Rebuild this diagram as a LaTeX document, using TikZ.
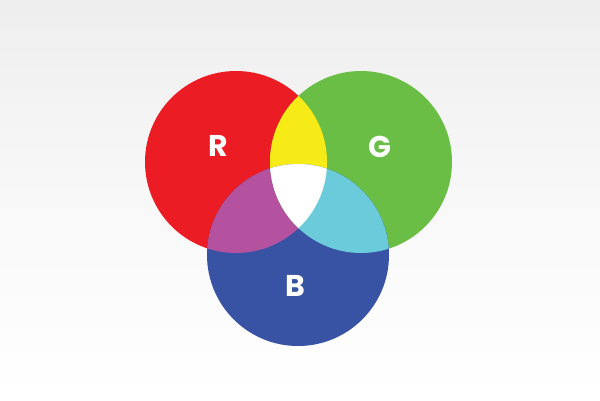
\documentclass[tikz,border=0pt]{standalone}
\usepackage{fontspec}
\setsansfont{Poppins}
\usetikzlibrary{positioning}
\definecolor{rgbred}{HTML}{EC1C24}
\definecolor{rgbgreen}{HTML}{6ABD45}
\definecolor{rgbblue}{HTML}{3953A4}
\definecolor{rgbyellow}{HTML}{F6EB16}
\definecolor{rgbmagenta}{HTML}{B5529F}
\definecolor{rgbcyan}{HTML}{6CCBDB}
\definecolor{bgrey}{HTML}{EEEEEE}
\tikzset{lbl/.style={text=white, font=\sffamily\bfseries\fontsize{30}{30}\selectfont, inner sep=0pt}}

\begin{document}
\begin{tikzpicture}[x=1pt, y=-1pt]
  % background
  \shade[top color=bgrey, bottom color=white, middle color=white!60!bgrey] (0,0) rectangle (600,400);
  \useasboundingbox (0,0) rectangle (600,400);
  \def\rad{91}
  \coordinate (cr) at (236,162);
  \coordinate (cg) at (361,162);
  \coordinate (cb) at (298,255);
  % primaries
  \fill[rgbred] (cr) circle[radius=\rad];
  \fill[rgbgreen] (cg) circle[radius=\rad];
  \fill[rgbblue] (cb) circle[radius=\rad];
  % two-way overlaps
  \begin{scope}
    \clip (cr) circle[radius=\rad];
    \fill[rgbyellow] (cg) circle[radius=\rad];
    \fill[rgbmagenta] (cb) circle[radius=\rad];
  \end{scope}
  \begin{scope}
    \clip (cg) circle[radius=\rad];
    \fill[rgbcyan] (cb) circle[radius=\rad];
  \end{scope}
  % centre
  \begin{scope}
    \clip (cr) circle[radius=\rad];
    \clip (cg) circle[radius=\rad];
    \fill[white] (cb) circle[radius=\rad];
  \end{scope}
  % labels
  \node[lbl] (labr) at (218,146) {R};
  \node[lbl] (labg) at (380,147) {G};
  \node[lbl] (labb) at (295.5,286) {B};
\end{tikzpicture}
\end{document}
